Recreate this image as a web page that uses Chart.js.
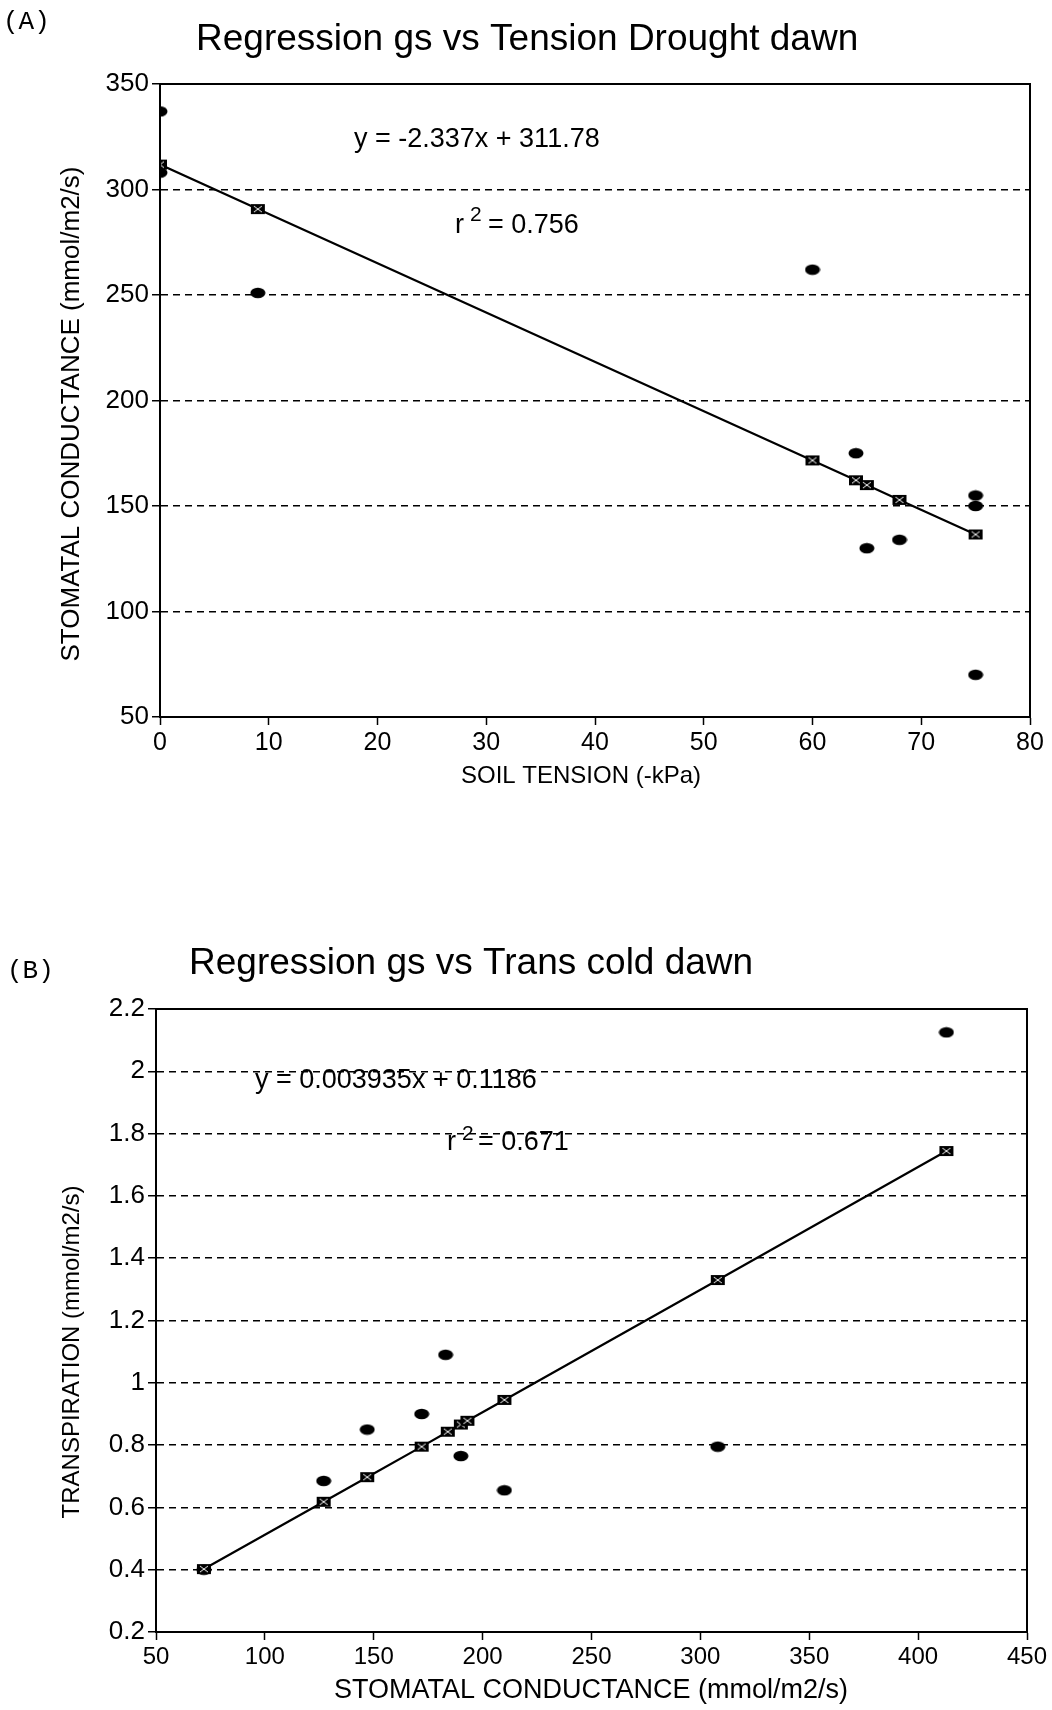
<!DOCTYPE html>
<html lang="en">
<head>
<meta charset="UTF-8">
<title>Regression gs</title>
<script src="https://cdn.jsdelivr.net/npm/chart.js"></script>
<style>
  body { margin: 0; background: #fff; }
  .painel { position: absolute; left: 0; width: 1052px; height: 855px; }
</style>
</head>
<body>

<div class="painel" style="top:0"><canvas id="graficoA"></canvas></div>
<div class="painel" style="top:855px"><canvas id="graficoB"></canvas></div>

<script>
// (A) gs vs soil tension - observed points and points on the fitted line
const tensaoObs  = [0, 0, 9, 60, 64, 65, 68, 75, 75, 75];
const gsObs      = [337, 308, 251, 262, 175, 130, 134, 155, 150, 70];
const tensaoPred = [0, 9, 60, 64, 65, 68, 75];
const gsPred     = [311.8, 290.7, 171.6, 162.2, 159.9, 152.9, 136.5];
const ticksTensao = [0, 10, 20, 30, 40, 50, 60, 70, 80];
const ticksGs     = [50, 100, 150, 200, 250, 300, 350];

// (B) transpiration vs gs
const gsObsB    = [72, 127, 147, 172, 183, 190, 210, 308, 413];
const transObs  = [0.40, 0.685, 0.85, 0.90, 1.09, 0.765, 0.655, 0.795, 2.125];
const gsPredB   = [72, 127, 147, 172, 184, 190, 193, 210, 308, 413];
const transPred = [0.402, 0.618, 0.697, 0.795, 0.843, 0.866, 0.878, 0.945, 1.330, 1.744];
const ticksGsB   = [50, 100, 150, 200, 250, 300, 350, 400, 450];
const ticksTrans = [0.2, 0.4, 0.6, 0.8, 1, 1.2, 1.4, 1.6, 1.8, 2, 2.2];

const pontos = (xs, ys) => xs.map((x, i) => ({ x: x, y: ys[i] }));

// marcadores desenhados em canvas pequeno
function marcaOval() {
    const c = document.createElement('canvas');
    c.width = 16; c.height = 12;
    const g = c.getContext('2d');
    g.fillStyle = '#000';
    g.beginPath();
    g.ellipse(8, 6, 7.5, 5.2, 0, 0, Math.PI * 2);
    g.fill();
    return c;
}
function marcaPred() {
    const c = document.createElement('canvas');
    c.width = 16; c.height = 12;
    const g = c.getContext('2d');
    g.fillStyle = '#000';
    g.fillRect(1, 1, 14, 10);
    g.strokeStyle = '#fff';
    g.lineWidth = 1;
    g.beginPath();
    g.moveTo(4, 3); g.lineTo(12, 9);
    g.moveTo(12, 3); g.lineTo(4, 9);
    g.stroke();
    return c;
}

// moldura + textos livres
const textos = {
    id: 'textos',
    afterDraw(chart, args, opts) {
        const ctx = chart.ctx;
        const a = chart.chartArea;
        ctx.save();
        ctx.strokeStyle = '#000';
        ctx.lineWidth = 2;
        ctx.strokeRect(a.left, a.top, a.right - a.left, a.bottom - a.top);
        ctx.fillStyle = '#000';
        opts.itens.forEach(t => {
            ctx.save();
            ctx.font = t.font;
            ctx.textAlign = t.align || 'left';
            ctx.textBaseline = t.base || 'alphabetic';
            ctx.translate(t.x, t.y);
            if (t.rot) ctx.rotate(t.rot);
            ctx.fillText(t.txt, 0, 0);
            ctx.restore();
        });
        ctx.restore();
    }
};

function eixo(min, max, valores, fonte, extra) {
    return Object.assign({
        type: 'linear',
        min: min,
        max: max,
        afterBuildTicks: s => { s.ticks = valores.map(v => ({ value: v })); },
        ticks: { color: '#000', font: fonte, autoSkip: false, maxRotation: 0,
                 callback: v => String(v) },
        border: { display: true, color: '#000', width: 2 }
    }, extra);
}

function grafico(id, dados, limites, itens, pad) {
    return new Chart(document.getElementById(id), {
        type: 'scatter',
        data: {
            datasets: [{
                label: 'Predicted',
                data: dados.pred,
                showLine: true,
                borderColor: '#000',
                borderWidth: 2.2,
                pointStyle: marcaPred(),
                pointRadius: 7
            }, {
                label: 'Observed',
                data: dados.obs,
                showLine: false,
                pointStyle: marcaOval(),
                pointRadius: 7
            }]
        },
        options: {
            responsive: true,
            maintainAspectRatio: false,
            animation: false,
            layout: { padding: pad },
            plugins: {
                legend: { display: false },
                tooltip: { enabled: false },
                textos: { itens: itens }
            },
            scales: {
                x: eixo(limites.x[0], limites.x[1], limites.xt, limites.xf, {
                    afterFit: s => { s.height = 60; },
                    grid: { drawOnChartArea: false, drawTicks: true, tickLength: 8,
                            tickColor: '#000', tickWidth: 1.5 }
                }),
                y: eixo(limites.y[0], limites.y[1], limites.yt,
                        { family: 'Liberation Sans', size: 26 }, {
                    afterFit: s => { s.width = limites.esq; },
                    grid: { color: '#000', lineWidth: 1.5, tickLength: 8,
                            tickColor: '#000', tickWidth: 1.5, tickBorderDash: [] },
                    border: { display: true, color: '#000', width: 2, dash: [7, 5] }
                })
            }
        },
        plugins: [textos]
    });
}

const fTitulo = '37px "Liberation Sans"';
const fEq = '27px "Liberation Sans"';
const fLetra = '26px "Liberation Mono"';

grafico('graficoA',
    { obs: pontos(tensaoObs, gsObs), pred: pontos(tensaoPred, gsPred) },
    { x: [0, 80], xt: ticksTensao, xf: { family: 'Liberation Sans', size: 25 },
      y: [50, 350], yt: ticksGs, esq: 160 },
    [
        { txt: '(A)', x: 3, y: 29, font: fLetra },
        { txt: 'Regression gs vs Tension Drought dawn', x: 196, y: 50, font: fTitulo },
        { txt: 'y = -2.337x + 311.78', x: 354, y: 147, font: fEq },
        { txt: 'r', x: 455, y: 233, font: fEq },
        { txt: '2', x: 470, y: 221, font: '21px "Liberation Sans"' },
        { txt: '= 0.756', x: 488, y: 233, font: fEq },
        { txt: 'SOIL TENSION (-kPa)', x: 581, y: 776, font: '24px "Liberation Sans"',
          align: 'center', base: 'middle' },
        { txt: 'STOMATAL CONDUCTANCE (mmol/m2/s)', x: 72, y: 414, rot: -Math.PI / 2,
          font: '26px "Liberation Sans"', align: 'center', base: 'middle' }
    ],
    { left: 0, right: 22, top: 84, bottom: 78 });

grafico('graficoB',
    { obs: pontos(gsObsB, transObs), pred: pontos(gsPredB, transPred) },
    { x: [50, 450], xt: ticksGsB, xf: { family: 'Liberation Sans', size: 24 },
      y: [0.2, 2.2], yt: ticksTrans, esq: 156 },
    [
        { txt: '(B)', x: 7, y: 123, font: fLetra },
        { txt: 'Regression gs vs Trans cold dawn', x: 189, y: 119, font: fTitulo },
        { txt: 'y = 0.003935x + 0.1186', x: 255, y: 233, font: fEq },
        { txt: 'r', x: 447, y: 295, font: fEq },
        { txt: '2', x: 462, y: 285, font: '21px "Liberation Sans"' },
        { txt: '= 0.671', x: 478, y: 295, font: fEq },
        { txt: 'STOMATAL CONDUCTANCE (mmol/m2/s)', x: 591, y: 836,
          font: '27px "Liberation Sans"', align: 'center', base: 'middle' },
        { txt: 'TRANSPIRATION (mmol/m2/s)', x: 72, y: 497, rot: -Math.PI / 2,
          font: '24px "Liberation Sans"', align: 'center', base: 'middle' }
    ],
    { left: 0, right: 25, top: 154, bottom: 18 });
</script>
</body>
</html>
